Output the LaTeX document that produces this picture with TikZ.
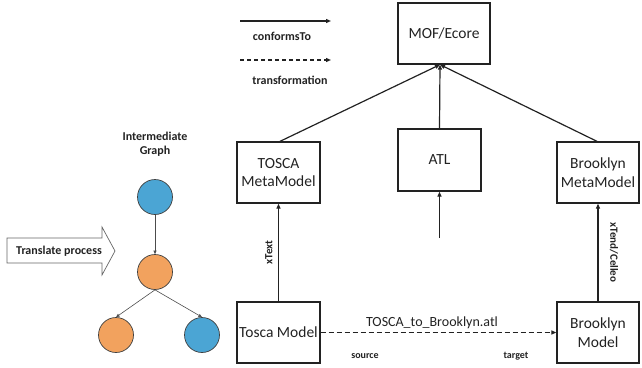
\documentclass[tikz,border=0pt]{standalone}
\usepackage{fontspec}
\setmainfont{Carlito}
\usetikzlibrary{arrows.meta}
\definecolor{cblue}{HTML}{4BA5D4}
\definecolor{corange}{HTML}{F2A25E}
\definecolor{ink}{HTML}{222222}
\begin{document}
\begin{tikzpicture}[x=1pt,y=-1pt,
  box/.style={draw=ink,line width=1.3pt,minimum width=83pt,minimum height=61pt,align=center,font=\fontsize{15.5}{18.5}\selectfont,text=ink,inner sep=1pt},
  conn/.style={draw=ink,line width=1.2pt,-{Triangle[length=5pt,width=4pt]}},
  gnode/.style={circle,draw=black!75,line width=0.7pt,minimum size=35pt,inner sep=0pt},
  gedge/.style={draw=black!70,line width=0.6pt,-{Triangle[length=3.5pt,width=3pt]}},
  lbl/.style={font=\bfseries\fontsize{12}{14}\selectfont,text=ink},
  small/.style={font=\bfseries\fontsize{10}{12}\selectfont,text=ink},
  side/.style={font=\bfseries\fontsize{11}{13}\selectfont,text=ink}]
\useasboundingbox (0,0) rectangle (642,367);

% boxes
\node[box,minimum width=92pt] (mof) at (444,33.5) {MOF/Ecore};
\node[box] (tmm) at (278.5,172.5) {TOSCA\\MetaModel};
\node[box,minimum height=62pt] (atl) at (439.5,160) {ATL};
\node[box,minimum width=82pt] (bmm) at (598,172.5) {Brooklyn\\MetaModel};
\node[box] (tm) at (278.5,332.5) {Tosca Model};
\node[box,minimum width=82pt] (bm) at (598,332.5) {Brooklyn\\Model};

% connectors to MOF
\draw[conn] ([xshift=1.5pt]tmm.north) -- ([xshift=-4pt]mof.south);
\draw[conn] (atl.north) -- ([xshift=-4pt]mof.south);
\draw[conn] ([xshift=-1pt]bmm.north) -- ([xshift=-4pt]mof.south);

% ATL input
\coordinate (atlin) at (439.5,238);
\draw[conn] (atlin) -- (atl.south);

% model -> metamodel
\draw[conn] (tm.north) -- node[side,rotate=90,above=2pt] (xt) {xText} (tmm.south);
\draw[conn] (bm.north) -- node[side,rotate=-90,above=8pt] (xc) {xTend/Celleo} (bmm.south);

% transformation
\draw[conn,dashed,dash pattern=on 5pt off 3pt] (tm.east) -- (bm.west);
\node[font=\fontsize{14}{16}\selectfont,text=ink] (tlab) at (432,323) {TOSCA\_to\_Brooklyn.atl};
\node[small] (src) at (365,356) {source};
\node[small] (tgt) at (516,356) {target};

% legend
\coordinate (l1a) at (240,21);
\coordinate (l1b) at (331,21);
\draw[conn] (l1a) -- (l1b);
\node[lbl] (conf) at (282,36) {conformsTo};
\coordinate (l2a) at (240,60);
\coordinate (l2b) at (331,60);
\draw[conn,dashed,dash pattern=on 4pt off 3pt] (l2a) -- (l2b);
\node[lbl] (trans) at (290,80) {transformation};

% intermediate graph
\node[lbl,align=center] (ig) at (155,144.5) {Intermediate\\Graph};
\node[gnode,fill=cblue] (c1) at (155,197) {};
\node[gnode,fill=corange] (c2) at (155,272) {};
\node[gnode,fill=corange] (c3) at (116,335) {};
\node[gnode,fill=cblue] (c4) at (202,335) {};
\draw[gedge] (c1.south) -- (c2.north);
\draw[gedge] (c2.south) -- (c3.north);
\draw[gedge] (c2.south) -- (c4.north);

% translate process arrow
\draw[draw=black!60,line width=0.7pt,fill=white] (7,238) -- (102,238) -- (102,227) -- (115,251) -- (102,275) -- (102,263) -- (7,263) -- cycle;
\node[lbl] (tp) at (59,251) {Translate process};
\end{tikzpicture}
\end{document}
